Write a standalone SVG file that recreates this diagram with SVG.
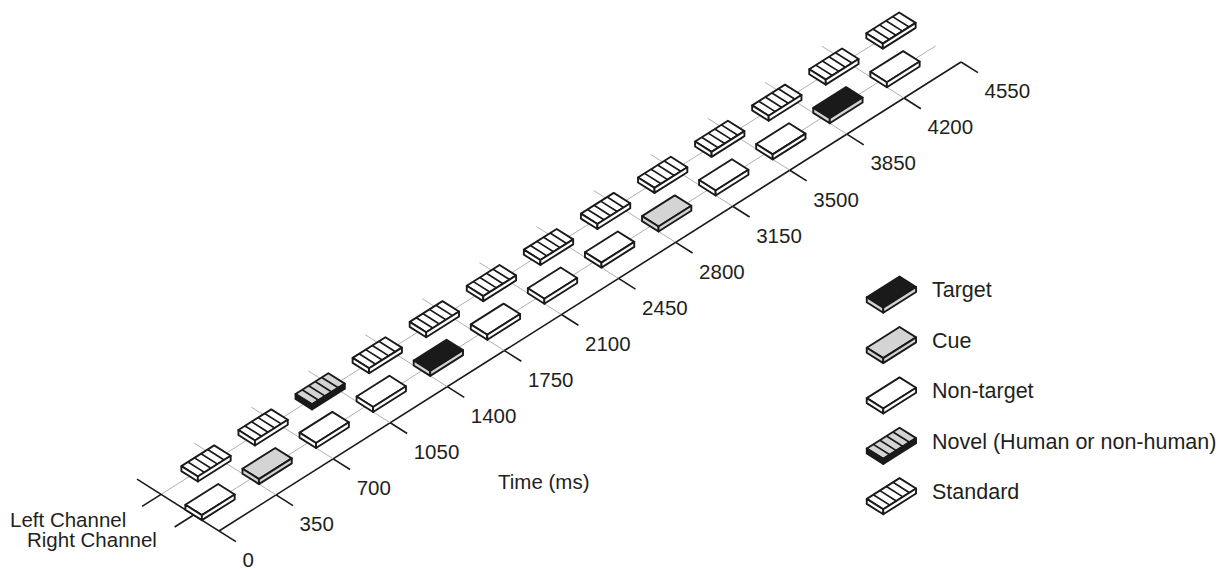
<svg xmlns="http://www.w3.org/2000/svg" width="1220" height="569" viewBox="0 0 1220 569">
<style>
.bk{stroke:#1a1a1a;stroke-width:1.6;fill:none}
.gr{stroke:#b0b0b0;stroke-width:1;fill:none}
.o{stroke:#1a1a1a;stroke-width:1.9;stroke-linejoin:round}
.w{fill:#fff}
.lg{fill:#d4d4d4}
.dk{fill:#1a1a1a}
.st{fill:none;stroke-width:1.7}
text{font-family:"Liberation Sans",Arial,sans-serif;font-size:20.5px;fill:#231f20}
#legend text{font-size:21.5px}
</style>
<defs>
<g id="tk"><line class="gr" x1="-82.01" y1="-51.84" x2="0" y2="0"/><line class="bk" x1="0" y1="0" x2="16.91" y2="10.69"/></g>
<g id="nt" class="o">
<polygon class="w" points="-8.25,-10.2 24.56,-30.93 41.06,-20.53 8.25,0.2"/>
<polygon class="w" points="-8.25,-10.2 8.25,0.2 8.25,5.2 -8.25,-5.2"/>
<polygon class="w" points="8.25,0.2 41.06,-20.53 41.06,-15.53 8.25,5.2"/>
</g>
<g id="tg" class="o">
<polygon class="dk" points="-8.25,-10.2 24.56,-30.93 41.06,-20.53 8.25,0.2"/>
<polygon class="lg" points="-8.25,-10.2 8.25,0.2 8.25,5.2 -8.25,-5.2"/>
<polygon class="lg" points="8.25,0.2 41.06,-20.53 41.06,-15.53 8.25,5.2"/>
</g>
<g id="cu" class="o">
<polygon class="lg" points="-8.25,-10.2 24.56,-30.93 41.06,-20.53 8.25,0.2"/>
<polygon class="lg" points="-8.25,-10.2 8.25,0.2 8.25,5.2 -8.25,-5.2"/>
<polygon class="lg" points="8.25,0.2 41.06,-20.53 41.06,-15.53 8.25,5.2"/>
</g>
<g id="sd" class="o">
<polygon class="w" points="-8.25,-10.2 24.56,-30.93 41.06,-20.53 8.25,0.2"/>
<polygon class="w" points="-8.25,-10.2 8.25,0.2 8.25,5.2 -8.25,-5.2"/>
<polygon class="w" points="8.25,0.2 41.06,-20.53 41.06,-15.53 8.25,5.2"/>
<path class="st" d="M-1.69,-14.35L14.81,-3.95M4.87,-18.49L21.37,-8.09M11.44,-22.64L27.94,-12.24M18,-26.78L34.5,-16.38"/>
</g>
<g id="nv" class="o">
<polygon class="lg" points="-8.25,-10.2 24.56,-30.93 41.06,-20.53 8.25,0.2"/>
<polygon class="dk" points="-8.25,-10.2 8.25,0.2 8.25,5.2 -8.25,-5.2"/>
<polygon class="dk" points="8.25,0.2 41.06,-20.53 41.06,-15.53 8.25,5.2"/>
<path class="st" d="M-1.69,-14.35L14.81,-3.95M4.87,-18.49L21.37,-8.09M11.44,-22.64L27.94,-12.24M18,-26.78L34.5,-16.38"/>
</g>
</defs>

<g id="connectors">
<line class="gr" x1="161.08" y1="494.39" x2="903.12" y2="25.35"/>
<line class="gr" x1="193.63" y1="514.97" x2="935.67" y2="45.93"/>
<line class="bk" x1="142.06" y1="506.41" x2="161.08" y2="494.39"/>
<line class="bk" x1="174.61" y1="526.99" x2="193.63" y2="514.97"/>
<line class="bk" x1="219" y1="531" x2="961.04" y2="61.96"/>
<line class="bk" x1="136.99" y1="479.16" x2="235.91" y2="541.69"/>
<use href="#tk" x="276.08" y="494.92"/>
<use href="#tk" x="333.16" y="458.84"/>
<use href="#tk" x="390.24" y="422.76"/>
<use href="#tk" x="447.32" y="386.68"/>
<use href="#tk" x="504.40" y="350.60"/>
<use href="#tk" x="561.48" y="314.52"/>
<use href="#tk" x="618.56" y="278.44"/>
<use href="#tk" x="675.64" y="242.36"/>
<use href="#tk" x="732.72" y="206.28"/>
<use href="#tk" x="789.80" y="170.20"/>
<use href="#tk" x="846.88" y="134.12"/>
<use href="#tk" x="903.96" y="98.04"/>
<line class="bk" x1="961.04" y1="61.96" x2="977.95" y2="72.65"/>
</g>

<g id="right-channel">
<g id="r0"><use href="#nt" x="193.63" y="514.97"/></g>
<g id="r1"><use href="#cu" x="250.71" y="478.89"/></g>
<g id="r2"><use href="#nt" x="307.79" y="442.81"/></g>
<g id="r3"><use href="#nt" x="364.87" y="406.73"/></g>
<g id="r4"><use href="#tg" x="421.95" y="370.65"/></g>
<g id="r5"><use href="#nt" x="479.03" y="334.57"/></g>
<g id="r6"><use href="#nt" x="536.11" y="298.49"/></g>
<g id="r7"><use href="#nt" x="593.19" y="262.41"/></g>
<g id="r8"><use href="#cu" x="650.27" y="226.33"/></g>
<g id="r9"><use href="#nt" x="707.35" y="190.25"/></g>
<g id="r10"><use href="#nt" x="764.43" y="154.17"/></g>
<g id="r11"><use href="#tg" x="821.51" y="118.09"/></g>
<g id="r12"><use href="#nt" x="878.59" y="82.01"/></g>
</g>

<g id="left-channel">
<g id="l0"><use href="#sd" x="189.62" y="476.35"/></g>
<g id="l1"><use href="#sd" x="246.70" y="440.27"/></g>
<g id="l2"><use href="#nv" x="303.78" y="404.19"/></g>
<g id="l3"><use href="#sd" x="360.86" y="368.11"/></g>
<g id="l4"><use href="#sd" x="417.94" y="332.03"/></g>
<g id="l5"><use href="#sd" x="475.02" y="295.95"/></g>
<g id="l6"><use href="#sd" x="532.10" y="259.87"/></g>
<g id="l7"><use href="#sd" x="589.18" y="223.79"/></g>
<g id="l8"><use href="#sd" x="646.26" y="187.71"/></g>
<g id="l9"><use href="#sd" x="703.34" y="151.63"/></g>
<g id="l10"><use href="#sd" x="760.42" y="115.55"/></g>
<g id="l11"><use href="#sd" x="817.50" y="79.47"/></g>
<g id="l12"><use href="#sd" x="874.58" y="43.39"/></g>
</g>

<g id="labels">
<text x="242.5" y="567.3">0</text>
<text x="299.6" y="531.2">350</text>
<text x="356.7" y="495.1">700</text>
<text x="413.7" y="459.1">1050</text>
<text x="470.8" y="423.0">1400</text>
<text x="527.9" y="386.9">1750</text>
<text x="585.0" y="350.8">2100</text>
<text x="642.1" y="314.7">2450</text>
<text x="699.1" y="278.7">2800</text>
<text x="756.2" y="242.6">3150</text>
<text x="813.3" y="206.5">3500</text>
<text x="870.4" y="170.4">3850</text>
<text x="927.5" y="134.3">4200</text>
<text x="984.5" y="98.3">4550</text>
<text x="10" y="526.5">Left Channel</text>
<text x="27" y="546.5">Right Channel</text>
<text x="498" y="489">Time (ms)</text>
</g>

<g id="legend">
<g id="leg-target"><use href="#tg" x="875" y="307.5"/><text x="932" y="297.3">Target</text></g>
<g id="leg-cue"><use href="#cu" x="875" y="357.9"/><text x="932" y="348.3">Cue</text></g>
<g id="leg-nontarget"><use href="#nt" x="875" y="408.3"/><text x="932" y="398.3">Non-target</text></g>
<g id="leg-novel"><use href="#nv" x="875" y="458.7"/><text x="932" y="449">Novel (Human or non-human)</text></g>
<g id="leg-standard"><use href="#sd" x="875" y="509.1"/><text x="932" y="499">Standard</text></g>
</g>
</svg>
